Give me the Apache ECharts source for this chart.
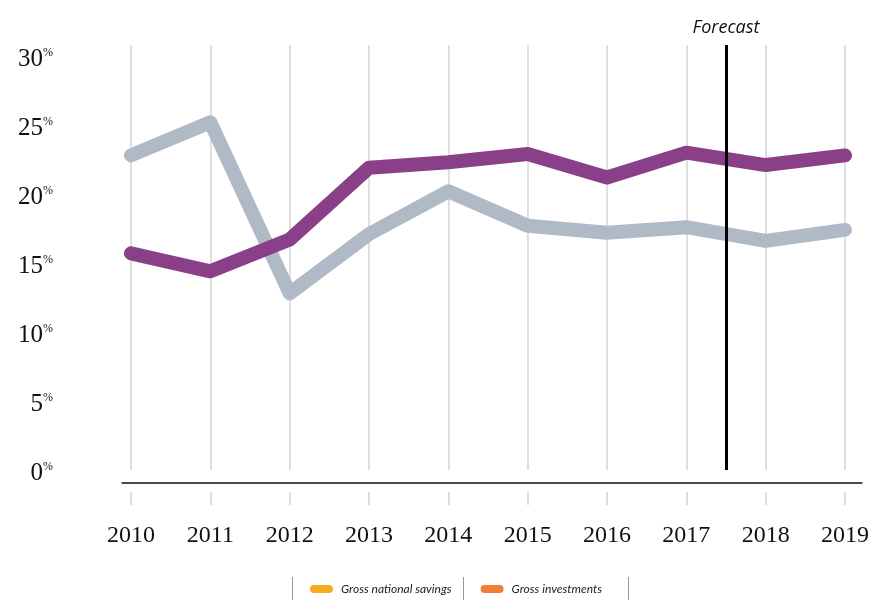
<!DOCTYPE html>
<html>
<head>
<meta charset="utf-8">
<script src="https://cdn.jsdelivr.net/npm/echarts@6/dist/echarts.min.js"></script>
<style>html,body{margin:0;padding:0;background:#fff}#c{width:872px;height:600px}</style>
</head>
<body>
<div id="c"></div>
<script>
const years = [2010, 2011, 2012, 2013, 2014, 2015, 2016, 2017, 2018, 2019];
const savings = [22.8, 25.2, 12.8, 17.1, 20.2, 17.7, 17.2, 17.6, 16.6, 17.4];
const investments = [15.7, 14.4, 16.7, 21.9, 22.3, 22.9, 21.2, 23.0, 22.1, 22.8];
const yTicks = [0, 5, 10, 15, 20, 25, 30];
const forecastAt = 2017.5;
const seriesNames = ['Gross national savings', 'Gross investments'];
const legendColors = ['#F9AB1F', '#EE7F35'];

const chart = echarts.init(document.getElementById('c'));
const pair = arr => years.map((y, i) => [y, arr[i]]);
const pill = 'path://M4,0 H19 A4,4 0 0 1 19,8 H4 A4,4 0 0 1 4,0 Z';

chart.setOption({
  animation: false,
  grid: [
    {left: 131, right: 24, top: 45, bottom: 130},
    {left: 122, right: 10, top: 45, bottom: 130}
  ],
  xAxis: [
    {
      type: 'value', gridIndex: 0, min: years[0], max: years[years.length - 1], interval: 1,
      offset: 22,
      axisLine: {show: false, onZero: false},
      axisTick: {show: true, length: 13, lineStyle: {color: '#d4d4d4', width: 1.5}},
      splitLine: {show: true, lineStyle: {color: '#d4d4d4', width: 1.5}},
      axisLabel: {
        margin: 32, fontFamily: 'Liberation Serif', fontSize: 24, color: '#111',
        formatter: v => String(v)
      }
    },
    {
      type: 'value', gridIndex: 1, min: 0, max: 1, offset: 13,
      axisLine: {show: true, onZero: false, lineStyle: {color: '#111', width: 1.5}},
      axisTick: {show: false}, axisLabel: {show: false}, splitLine: {show: false}
    }
  ],
  yAxis: [
    {
      type: 'value', gridIndex: 0, min: 0, max: 30.8, interval: 5,
      axisLine: {show: false}, axisTick: {show: false}, splitLine: {show: false},
      axisLabel: {
        margin: 78, padding: [6, 0, 0, 0],
        formatter: v => yTicks.includes(v) ? '{n|' + v + '}{p|%}' : '',
        rich: {
          n: {fontFamily: 'Liberation Serif', fontSize: 25, color: '#111'},
          p: {fontFamily: 'Liberation Serif', fontSize: 12, color: '#111', padding: [0, 0, 13, 0]}
        }
      }
    },
    {type: 'value', gridIndex: 1, show: false, min: 0, max: 1}
  ],
  legend: {
    left: 305, top: 578, itemWidth: 23, itemHeight: 8, itemGap: 29,
    textStyle: {fontFamily: 'Lato', fontStyle: 'italic', fontSize: 12, color: '#222', padding: [0, 0, 0, 3]},
    data: [
      {name: seriesNames[0], icon: pill, itemStyle: {color: legendColors[0]}},
      {name: seriesNames[1], icon: pill, itemStyle: {color: legendColors[1]}}
    ]
  },
  graphic: [
    {type: 'line', shape: {x1: 292.5, y1: 577, x2: 292.5, y2: 600}, style: {stroke: '#999', lineWidth: 1}},
    {type: 'line', shape: {x1: 463.5, y1: 577, x2: 463.5, y2: 600}, style: {stroke: '#999', lineWidth: 1}},
    {type: 'line', shape: {x1: 628.5, y1: 577, x2: 628.5, y2: 600}, style: {stroke: '#999', lineWidth: 1}}
  ],
  series: [
    {
      name: seriesNames[0], type: 'line', xAxisIndex: 0, yAxisIndex: 0, data: pair(savings),
      symbol: 'none', z: 2,
      lineStyle: {color: '#B0BAC6', width: 14, cap: 'round', join: 'round'},
      itemStyle: {color: '#B0BAC6'}
    },
    {
      name: seriesNames[1], type: 'line', xAxisIndex: 0, yAxisIndex: 0, data: pair(investments),
      symbol: 'none', z: 3,
      lineStyle: {color: '#8A4089', width: 14, cap: 'round', join: 'round'},
      itemStyle: {color: '#8A4089'}
    },
    {
      name: 'forecast', type: 'line', xAxisIndex: 0, yAxisIndex: 0, data: [], z: 5,
      markLine: {
        silent: true, symbol: ['none', 'none'],
        lineStyle: {color: '#000', width: 3, type: 'solid'},
        label: {
          show: true, position: 'end', formatter: 'Forecast', distance: 8,
          fontFamily: 'Open Sans', fontStyle: 'italic', fontSize: 18, color: '#111'
        },
        data: [{xAxis: forecastAt}]
      }
    }
  ]
});
</script>
</body>
</html>
